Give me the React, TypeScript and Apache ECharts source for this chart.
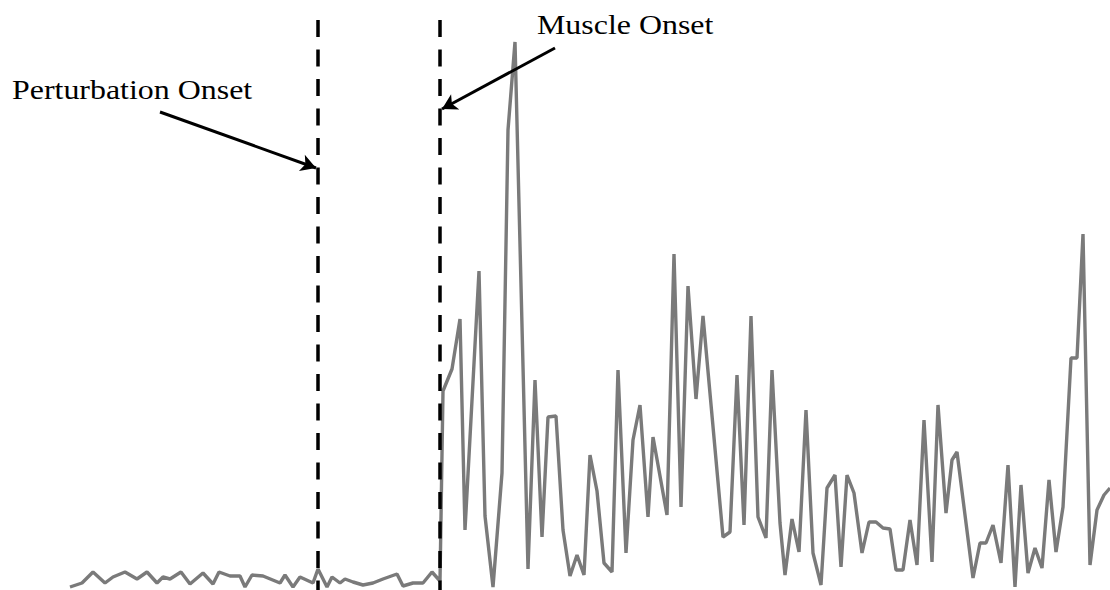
import React, { useEffect, useRef } from "react";
import * as echarts from "echarts";

// time (ms from trace start) and EMG amplitude (arbitrary units)
const times: number[] = [
  2, 14, 25, 37, 45, 57, 69, 79, 89, 95, 102, 113, 122, 135, 145, 151, 162, 172, 177, 184,
  195, 212, 217, 225, 232, 245, 250, 259, 264, 272, 277, 285, 295, 305, 315, 329, 335, 345, 355, 364,
  372, 375, 384, 392, 397, 411, 417, 425, 434, 440, 447, 460, 467, 474, 480, 488, 495, 502, 509, 516,
  522, 529, 536, 544, 550, 558, 565, 572, 580, 585, 599, 606, 613, 620, 628, 635, 655, 662, 669, 676,
  683, 690, 698, 704, 712, 717, 724, 731, 738, 745, 753, 759, 767, 773, 779, 786, 794, 801, 808, 815,
  822, 828, 835, 842, 849, 856, 864, 870, 878, 884, 889, 905, 912, 918, 925, 933, 940, 947, 953, 960,
  967, 974, 981, 988, 995, 1003, 1009, 1015, 1022, 1029, 1036, 1042,
];
const emg: number[] = [
  3, 7, 18, 7, 13, 18, 11, 18, 7, 13, 11, 18, 6, 17, 6, 18, 14, 14, 3, 15,
  14, 7, 15, 3, 13, 7, 21, 3, 13, 7, 11, 8, 5, 7, 11, 16, 4, 7, 7, 18,
  9, 199, 221, 271, 60, 319, 74, 3, 117, 460, 548, 21, 210, 53, 173, 174, 60, 14, 35, 15,
  135, 99, 27, 18, 220, 37, 150, 185, 73, 153, 75, 336, 83, 304, 191, 274, 53, 58, 215, 65,
  274, 73, 52, 220, 67, 15, 71, 38, 180, 37, 5, 102, 115, 23, 115, 97, 37, 68, 68, 62,
  61, 20, 20, 70, 25, 170, 28, 185, 77, 130, 138, 12, 47, 47, 65, 27, 125, 3, 105, 17,
  42, 22, 110, 38, 83, 232, 232, 356, 25, 80, 95, 102,
];

const perturbationOnset = 250;
const muscleOnset = 372;
const markerTop = 570;

const labels = ["Perturbation Onset", "Muscle Onset"];

export default function App() {
  const ref = useRef<HTMLDivElement>(null);
  useEffect(() => {
    if (!ref.current) return;
    const chart = echarts.init(ref.current, null, { renderer: "svg" });
    const data = times.map((t, i) => [t, emg[i]]);
    const textStyle = {
      fontFamily: "Liberation Serif",
      fontSize: 28,
      fill: "#000",
      align: "left",
      verticalAlign: "middle",
      x: 0,
      y: 0,
    };
    chart.setOption({
      animation: false,
      backgroundColor: "#ffffff",
      grid: { left: 68, right: 0, top: 20, bottom: 0 },
      xAxis: { type: "value", min: 0, max: 1042, show: false },
      yAxis: { type: "value", min: 0, max: 570, show: false },
      series: [
        {
          type: "line",
          data,
          symbol: "none",
          clip: false,
          lineStyle: { color: "#7a7a7a", width: 3.4 },
          z: 2,
          markLine: {
            silent: true,
            symbol: "none",
            label: { show: false },
            z: 3,
            lineStyle: { color: "#000", width: 3.5, type: [17, 12.5] },
            data: [
              [{ coord: [perturbationOnset, markerTop] }, { coord: [perturbationOnset, 0] }],
              [{ coord: [muscleOnset, markerTop] }, { coord: [muscleOnset, 0] }],
              [
                { coord: [92, 478], symbol: "none", lineStyle: { type: "solid", width: 3 } },
                { coord: [248, 422], symbol: "arrow", symbolSize: [13, 15] },
              ],
              [
                { coord: [487, 542], symbol: "none", lineStyle: { type: "solid", width: 3 } },
                { coord: [374, 481], symbol: "arrow", symbolSize: [13, 15] },
              ],
            ],
          },
        },
      ],
      graphic: [
        {
          type: "text",
          x: 12,
          y: 89.5,
          scaleX: 1.14,
          style: { ...textStyle, text: labels[0] },
        },
        {
          type: "text",
          x: 537,
          y: 24,
          scaleX: 1.14,
          style: { ...textStyle, text: labels[1] },
        },
      ],
    });
    return () => chart.dispose();
  }, []);
  return (
    <div
      ref={ref}
      style={{ position: "fixed", left: 0, top: 0, width: 1110, height: 590, background: "#fff" }}
    />
  );
}
